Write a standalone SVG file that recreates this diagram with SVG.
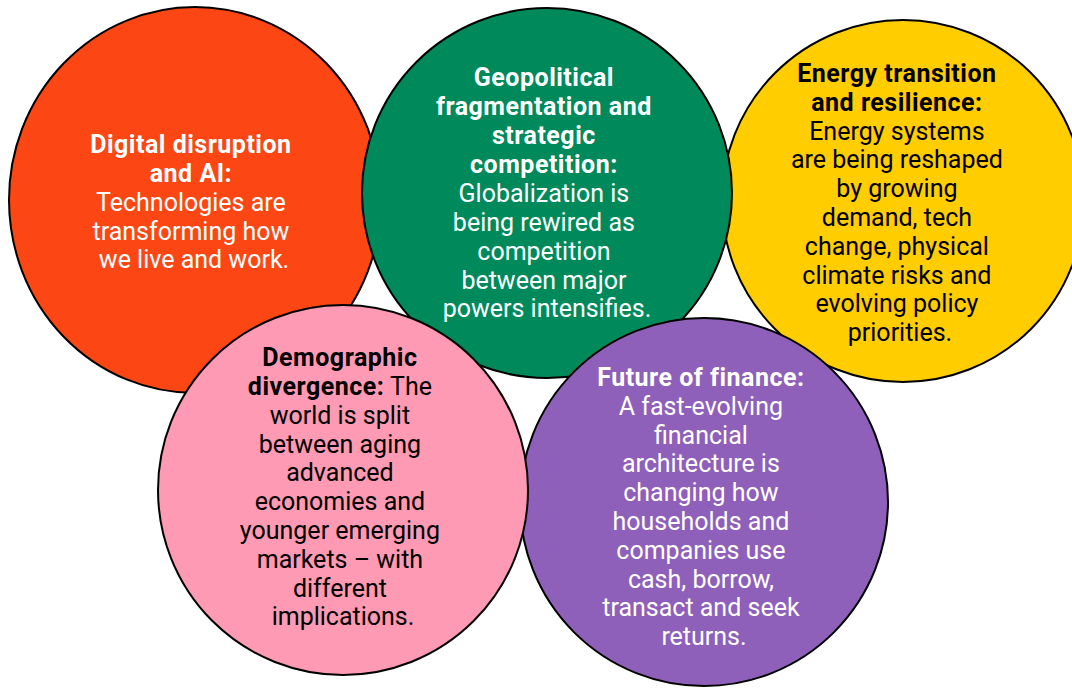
<svg xmlns="http://www.w3.org/2000/svg" width="1072" height="689" viewBox="0 0 1072 689">
  <style>
    .c { stroke: #000; stroke-width: 2; }
    text { font-family: Roboto, "Liberation Sans", sans-serif; font-size: 25px; text-anchor: middle; }
    .w { fill: #fff; }
    .k { fill: #000; }
    .b { font-weight: bold; letter-spacing: 0.5px; }
  </style>
  <rect width="1072" height="689" fill="#fff"/>

  <g id="digital">
    <ellipse class="c" cx="195" cy="200" rx="186" ry="193" fill="#FC4714" stroke-width="1.7"/>
    <text class="w">
      <tspan class="b" x="194" y="153">Digital disruption</tspan>
      <tspan class="b" x="194" y="182">and AI:</tspan>
      <tspan x="194" y="211">Technologies are</tspan>
      <tspan x="194" y="240">transforming how</tspan>
      <tspan x="194" y="268">we live and work.</tspan>
    </text>
  </g>

  <g id="energy">
    <circle class="c" cx="903" cy="201" r="181" fill="#FFCD00"/>
    <text class="k">
      <tspan class="b" x="900" y="82">Energy transition</tspan>
      <tspan class="b" x="900" y="111">and resilience:</tspan>
      <tspan x="900" y="140">Energy systems</tspan>
      <tspan x="900" y="168">are being reshaped</tspan>
      <tspan x="900" y="197">by growing</tspan>
      <tspan x="900" y="226">demand, tech</tspan>
      <tspan x="900" y="255">change, physical</tspan>
      <tspan x="900" y="284">climate risks and</tspan>
      <tspan x="900" y="312">evolving policy</tspan>
      <tspan x="900" y="341">priorities.</tspan>
    </text>
  </g>

  <g id="geopolitical">
    <circle class="c" cx="547" cy="193" r="185" fill="#008A5C"/>
    <text class="w">
      <tspan class="b" x="547" y="86">Geopolitical</tspan>
      <tspan class="b" x="547" y="115">fragmentation and</tspan>
      <tspan class="b" x="547" y="144">strategic</tspan>
      <tspan class="b" x="547" y="173">competition:</tspan>
      <tspan x="547" y="202">Globalization is</tspan>
      <tspan x="547" y="231">being rewired as</tspan>
      <tspan x="547" y="260">competition</tspan>
      <tspan x="547" y="289">between major</tspan>
      <tspan x="547" y="317">powers intensifies.</tspan>
    </text>
  </g>

  <g id="finance">
    <circle class="c" cx="704" cy="502" r="184" fill="#8E60BA"/>
    <text class="w">
      <tspan class="b" x="704" y="386">Future of finance:</tspan>
      <tspan x="704" y="415">A fast-evolving</tspan>
      <tspan x="704" y="444">financial</tspan>
      <tspan x="704" y="472">architecture is</tspan>
      <tspan x="704" y="501">changing how</tspan>
      <tspan x="704" y="530">households and</tspan>
      <tspan x="704" y="559">companies use</tspan>
      <tspan x="704" y="588">cash, borrow,</tspan>
      <tspan x="704" y="616">transact and seek</tspan>
      <tspan x="704" y="645">returns.</tspan>
    </text>
  </g>

  <g id="demographic">
    <circle class="c" cx="343" cy="490" r="185" fill="#FF9AB4"/>
    <text class="k">
      <tspan class="b" x="343" y="366">Demographic</tspan>
      <tspan x="343" y="395"><tspan class="b">divergence:</tspan> The</tspan>
      <tspan x="343" y="424">world is split</tspan>
      <tspan x="343" y="453">between aging</tspan>
      <tspan x="343" y="481">advanced</tspan>
      <tspan x="343" y="510">economies and</tspan>
      <tspan x="343" y="539">younger emerging</tspan>
      <tspan x="343" y="568">markets – with</tspan>
      <tspan x="343" y="597">different</tspan>
      <tspan x="343" y="625">implications.</tspan>
    </text>
  </g>

  <g id="connectors"/>
</svg>
